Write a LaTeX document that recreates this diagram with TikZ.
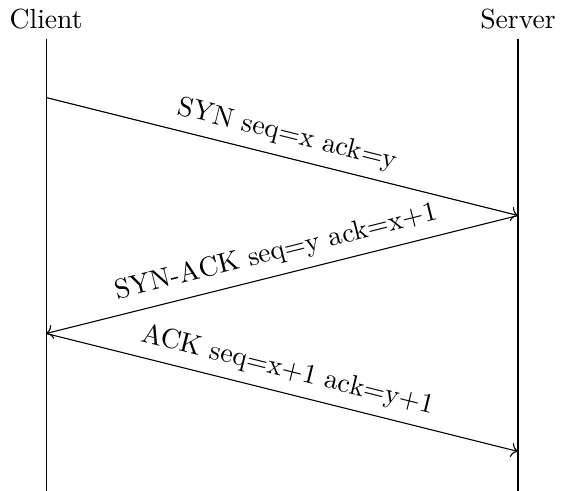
\documentclass[tikz,border=0pt]{standalone}
\usetikzlibrary{arrows.meta}
\begin{document}
\begin{tikzpicture}[
  lifeline/.style={draw, line width=0.4pt},
  msg/.style={->, line width=0.4pt},
  msglabel/.style={midway, above, sloped},
  actor/.style={anchor=south}
]
\useasboundingbox (-0.586,-5.75) rectangle (6.61,0.49);
% actors
\node[actor] (client) at (0,0) {Client};
\node[actor] (server) at (6,0) {Server};
% lifeline end points
\coordinate (ctop) at (0,0);
\coordinate (cbot) at (0,-5.75);
\coordinate (stop) at (6,0);
\coordinate (sbot) at (6,-5.75);
\draw[lifeline] (ctop) -- (cbot);
\draw[lifeline] (stop) -- (sbot);
% message points
\coordinate (c1) at (0,-0.75);
\coordinate (s1) at (6,-2.25);
\coordinate (c2) at (0,-3.75);
\coordinate (s2) at (6,-5.25);
\draw[msg] (c1) -- node[msglabel] {SYN seq=x ack=y} (s1);
\draw[msg] (s1) -- node[msglabel] {SYN-ACK seq=y ack=x+1} (c2);
\draw[msg] (c2) -- node[msglabel] {ACK seq=x+1 ack=y+1} (s2);
\end{tikzpicture}
\end{document}
